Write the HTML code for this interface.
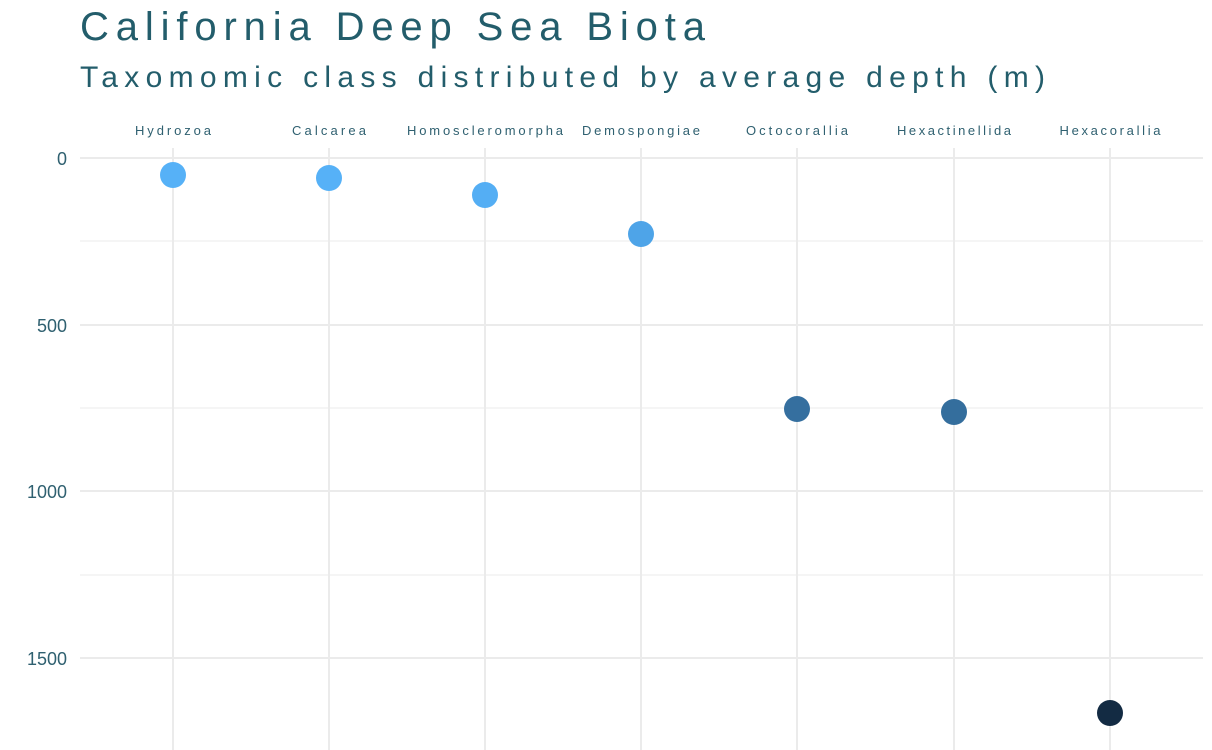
<!DOCTYPE html>
<html><head><style>
html,body{margin:0;padding:0;background:#fff;}
</style></head><body>
<svg width="1212" height="750" xmlns="http://www.w3.org/2000/svg" style="display:block">
<rect width="1212" height="750" fill="#fff"/>
<text x="80" y="40" font-family="Liberation Sans, sans-serif" font-size="40" fill="#235d6b" textLength="625" lengthAdjust="spacing">California Deep Sea Biota</text>
<text x="80" y="87" font-family="Liberation Sans, sans-serif" font-size="30" fill="#235d6b" textLength="965" lengthAdjust="spacing">Taxomomic class distributed by average depth (m)</text>
<g stroke="#ebebeb" stroke-width="1">
<line x1="80" x2="1203" y1="241" y2="241"/>
<line x1="80" x2="1203" y1="408" y2="408"/>
<line x1="80" x2="1203" y1="575" y2="575"/>
</g>
<g stroke="#ebebeb" stroke-width="2">
<line x1="80" x2="1203" y1="158" y2="158"/>
<line x1="80" x2="1203" y1="325" y2="325"/>
<line x1="80" x2="1203" y1="491" y2="491"/>
<line x1="80" x2="1203" y1="658" y2="658"/>
<line x1="173" x2="173" y1="148" y2="750"/>
<line x1="329" x2="329" y1="148" y2="750"/>
<line x1="485" x2="485" y1="148" y2="750"/>
<line x1="641" x2="641" y1="148" y2="750"/>
<line x1="797" x2="797" y1="148" y2="750"/>
<line x1="954" x2="954" y1="148" y2="750"/>
<line x1="1110" x2="1110" y1="148" y2="750"/>
</g>
<g font-family="Liberation Sans, sans-serif" font-size="18" fill="#2f6070" text-anchor="end">
<text x="67" y="165">0</text>
<text x="67" y="332">500</text>
<text x="67" y="498">1000</text>
<text x="67" y="665">1500</text>
</g>
<g font-family="Liberation Sans, sans-serif" font-size="13" fill="#2f6070" text-anchor="middle" lengthAdjust="spacing">
<text x="173" y="135" textLength="76">Hydrozoa</text>
<text x="329" y="135" textLength="74">Calcarea</text>
<text x="485" y="135" textLength="156">Homoscleromorpha</text>
<text x="641" y="135" textLength="118">Demospongiae</text>
<text x="797" y="135" textLength="102">Octocorallia</text>
<text x="954" y="135" textLength="114">Hexactinellida</text>
<text x="1110" y="135" textLength="101">Hexacorallia</text>
</g>
<circle cx="173" cy="175" r="13" fill="#56b1f7"/>
<circle cx="329" cy="178" r="13" fill="#56b1f7"/>
<circle cx="485" cy="195" r="13" fill="#54aef4"/>
<circle cx="641" cy="234" r="13" fill="#4ea4e8"/>
<circle cx="797" cy="409" r="13" fill="#356f9f"/>
<circle cx="954" cy="412" r="13" fill="#346e9d"/>
<circle cx="1110" cy="713" r="13" fill="#132b43"/>
</svg>
</body></html>
